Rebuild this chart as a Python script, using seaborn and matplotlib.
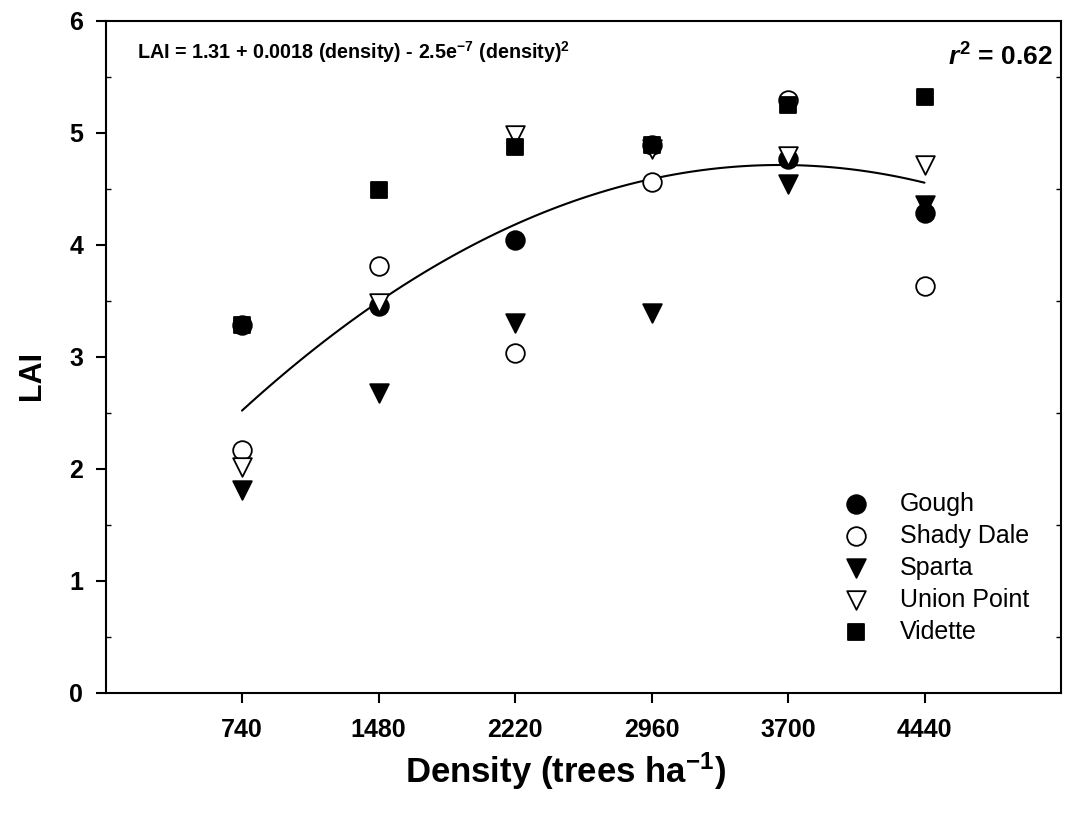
import numpy as np
import pandas as pd
import matplotlib
matplotlib.use("Agg")
import matplotlib.pyplot as plt
import seaborn as sns
from matplotlib.ticker import MultipleLocator

density = [740, 1480, 2220, 2960, 3700, 4440]
gough = [3.28, 3.45, 4.04, 4.89, 4.76, 4.28]
shady_dale = [2.17, 3.81, 3.03, 4.56, 5.29, 3.63]
sparta = [1.81, 2.68, 3.30, 3.39, 4.54, 4.35]
union_point = [2.02, 3.48, 4.98, 4.85, 4.79, 4.71]
vidette = [3.28, 4.49, 4.87, 4.89, 5.25, 5.32]

sites = ["Gough", "Shady Dale", "Sparta", "Union Point", "Vidette"]
values = [gough, shady_dale, sparta, union_point, vidette]
styles = {
    "Gough": dict(marker="o", fc="black", s=180),
    "Shady Dale": dict(marker="o", fc="white", s=180),
    "Sparta": dict(marker="v", fc="black", s=180),
    "Union Point": dict(marker="v", fc="white", s=180),
    "Vidette": dict(marker="s", fc="black", s=120),
}

df = pd.DataFrame({
    "density": np.tile(density, len(sites)),
    "LAI": np.concatenate(values),
    "site": np.repeat(sites, len(density)),
})

sns.set_theme(style="ticks")
plt.rcParams["font.family"] = ["Liberation Sans", "DejaVu Sans"]
for k in ["text.color", "axes.labelcolor", "xtick.color", "ytick.color", "axes.edgecolor"]:
    plt.rcParams[k] = "black"
plt.rcParams["mathtext.fontset"] = "custom"
plt.rcParams["mathtext.rm"] = "Liberation Sans:bold"
plt.rcParams["mathtext.bf"] = "Liberation Sans:bold"
plt.rcParams["mathtext.it"] = "Liberation Sans:italic:bold"
plt.rcParams["mathtext.default"] = "bf"

fig = plt.figure(figsize=(10.67, 8.15), dpi=100)
ax = fig.add_axes([105.5 / 1067, (815 - 693) / 815, (1061 - 105.5) / 1067, (693 - 20.5) / 815])

sns.regplot(data=df, x="density", y="LAI", order=2, ci=None, scatter=False,
            line_kws=dict(color="black", lw=1.5, zorder=2), ax=ax)

for site in sites:
    st = styles[site]
    sub = df[df["site"] == site]
    sns.scatterplot(data=sub, x="density", y="LAI", marker=st["marker"], s=st["s"],
                    color=st["fc"], edgecolor="black", linewidth=1.3, label=site,
                    ax=ax, zorder=3)

ax.set_xlim(0, 5180)
ax.set_ylim(0, 6)
ax.set_xticks(density)
ax.set_xticklabels([str(d) for d in density])
ax.yaxis.set_major_locator(MultipleLocator(1))
ax.yaxis.set_minor_locator(MultipleLocator(0.5))

for sp in ax.spines.values():
    sp.set_linewidth(1.5)
    sp.set_color("black")

ax.tick_params(axis="x", which="major", direction="out", length=7, width=1.5, pad=11,
               labelsize=18, colors="black")
ax.tick_params(axis="y", which="major", direction="out", length=7, width=1.5, pad=9,
               labelsize=18, colors="black", right=False)
ax.tick_params(axis="y", which="minor", direction="in", length=3.5, width=1,
               left=True, right=True)
for lab in ax.get_xticklabels() + ax.get_yticklabels():
    lab.set_fontweight("bold")

ax.set_xlabel("Density (trees ha$^{-1}$)", fontsize=25, fontweight="bold")
ax.xaxis.set_label_coords((565 - 105.5) / 955.5, -(751 - 693) / 672.5)
ax.set_ylabel("LAI", fontsize=22, fontweight="bold")
ax.yaxis.set_label_coords(-(105.5 - 47) / 955.5, (693 - 376) / 672.5)

ax.text(0.033, 0.953, r"LAI = 1.31 + 0.0018 (density) - 2.5e$^{-7}$ (density)$^{2}$",
        transform=ax.transAxes, fontsize=14.2, fontweight="bold", ha="left", va="center")
ax.text(0.9916, 0.945, r"$\mathit{r}^{2}$ = 0.62", transform=ax.transAxes,
        fontsize=19, fontweight="bold", ha="right", va="center")

leg = ax.legend(loc="lower right", bbox_to_anchor=(0.977, 0.058), frameon=False,
                fontsize=18, handletextpad=0.75, labelspacing=0.32, borderaxespad=0,
                markerscale=1.0)

fig.savefig("out.png", dpi=100, facecolor="white")
